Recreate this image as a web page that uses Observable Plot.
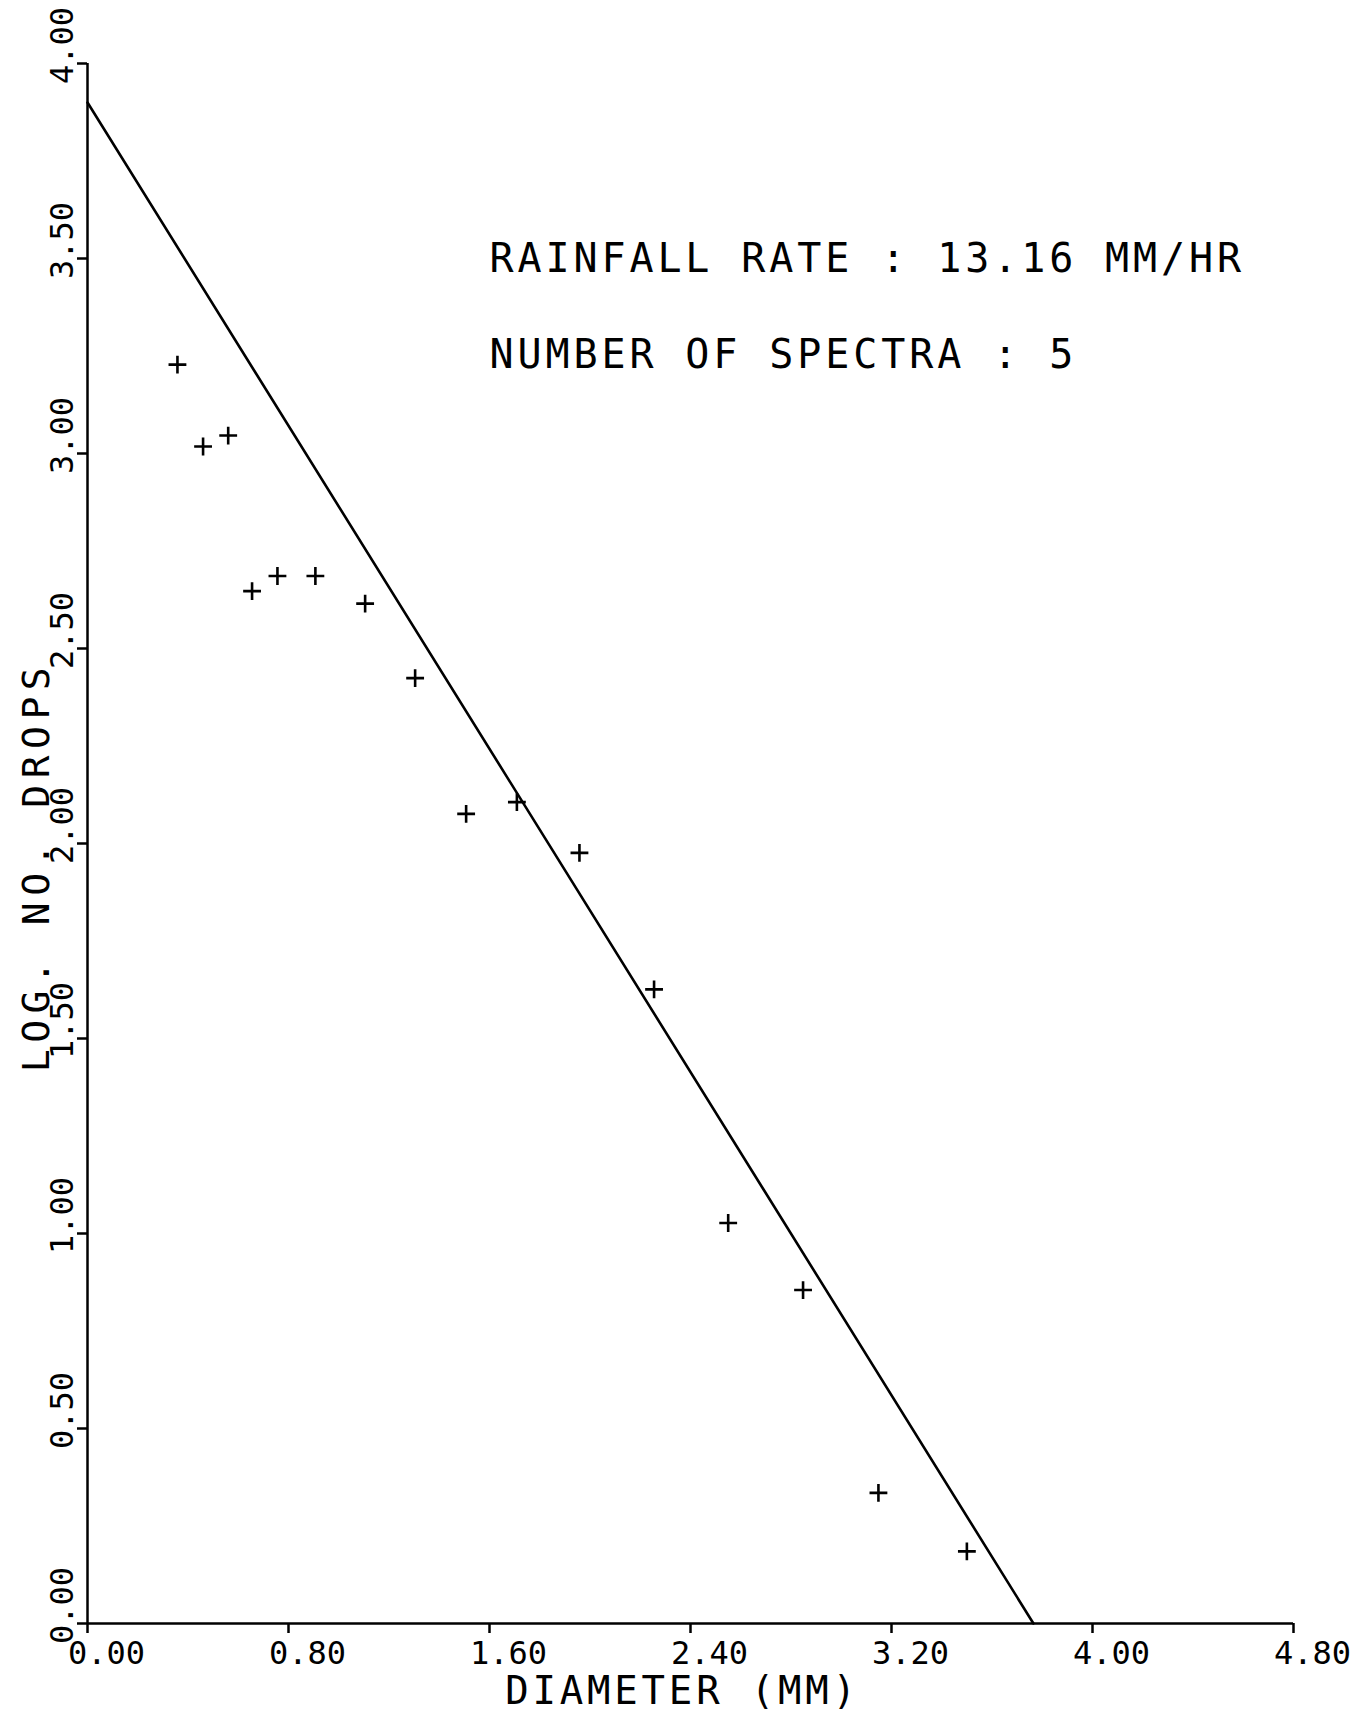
<!DOCTYPE html>
<html>
<head>
<meta charset="utf-8">
<script src="https://cdn.jsdelivr.net/npm/d3@7"></script>
<script src="https://cdn.jsdelivr.net/npm/@observablehq/plot@0.6"></script>
<style>
  html, body { margin: 0; padding: 0; background: #fff; }
  #chart svg { display: block; }
</style>
</head>
<body>
<div id="chart"></div>
<script>
// Measured drop-size points (diameter in mm, log10 number of drops)
const diameter = [0.358, 0.460, 0.560, 0.655, 0.756, 0.907, 1.105, 1.304, 1.507, 1.709, 1.958, 2.255, 2.550, 2.848, 3.148, 3.500];
const logDrops = [3.228, 3.018, 3.046, 2.647, 2.686, 2.686, 2.615, 2.424, 2.076, 2.106, 1.976, 1.626, 1.027, 0.855, 0.335, 0.185];

// Fitted line end points
const fitX = [0, 3.765];
const fitY = [3.90, 0];

// Axis ticks and labels
const xTicks = [0, 0.8, 1.6, 2.4, 3.2, 4.0, 4.8];
const xTickLabels = ["0.00", "0.80", "1.60", "2.40", "3.20", "4.00", "4.80"];
const yTicks = [0, 0.5, 1.0, 1.5, 2.0, 2.5, 3.0, 3.5, 4.0];
const yTickLabels = ["0.00", "0.50", "1.00", "1.50", "2.00", "2.50", "3.00", "3.50", "4.00"];

const xTitle = "DIAMETER (MM)";
const yTitle = "LOG. NO. DROPS";
const annotations = ["RAINFALL RATE : 13.16 MM/HR", "NUMBER OF SPECTRA : 5"];

const points = diameter.map((d, i) => ({x: d, y: logDrops[i]}));
const fit = fitX.map((d, i) => ({x: d, y: fitY[i]}));
const xTickData = xTicks.map((t, i) => ({t, label: xTickLabels[i]}));
const yTickData = yTicks.map((t, i) => ({t, label: yTickLabels[i]}));

const FONT = "DejaVu Sans Mono";

const chart = Plot.plot({
  width: 1369,
  height: 1714,
  marginLeft: 87,
  marginRight: 76,
  marginTop: 63,
  marginBottom: 91,
  style: {fontFamily: FONT, background: "#fff", color: "#000"},
  x: {type: "linear", domain: [0, 4.8], axis: null},
  y: {type: "linear", domain: [0, 4], axis: null},
  marks: [
    // axis lines
    Plot.ruleX([0], {stroke: "#000", strokeWidth: 2.5}),
    Plot.ruleY([0], {stroke: "#000", strokeWidth: 2.5}),
    // x ticks (downward) and labels
    Plot.axisX({ticks: xTicks, tickSize: 10, tickPadding: 7, tickFormat: () => "", strokeWidth: 2.5, label: null}),
    Plot.text(xTickData, {x: "t", frameAnchor: "bottom", text: "label", textAnchor: "middle", dx: 19, dy: 18,
      lineAnchor: "top", fontSize: 32, fill: "#000"}),
    // y ticks (leftward) and rotated labels
    Plot.axisY({ticks: yTicks, tickSize: 10, tickPadding: 0, tickFormat: () => "", strokeWidth: 2.5, label: null}),
    Plot.text(yTickData, {y: "t", frameAnchor: "left", text: "label", textAnchor: "middle", rotate: -90, dx: -25, dy: -18,
      lineAnchor: "middle", fontSize: 32, fill: "#000"}),
    // fitted line
    Plot.line(fit, {x: "x", y: "y", stroke: "#000", strokeWidth: 2.6}),
    // data points
    Plot.dot(points, {x: "x", y: "y", symbol: "plus", r: 5.8, stroke: "#000", strokeWidth: 2.6}),
    // annotations
    Plot.text([annotations[0]], {frameAnchor: "top-left", text: d => d, textAnchor: "start",
      lineAnchor: "bottom", dx: 402, dy: 208, fontSize: 40, fill: "#000"}),
    Plot.text([annotations[1]], {frameAnchor: "top-left", text: d => d, textAnchor: "start",
      lineAnchor: "bottom", dx: 402, dy: 304, fontSize: 40, fill: "#000"}),
    // axis titles
    Plot.text([xTitle], {frameAnchor: "bottom", text: d => d, textAnchor: "middle", dx: -8, dy: 68,
      lineAnchor: "middle", fontSize: 39, fill: "#000"}),
    Plot.text([yTitle], {frameAnchor: "left", text: d => d, textAnchor: "middle", rotate: -90, dx: -51, dy: 23,
      lineAnchor: "middle", fontSize: 38, fill: "#000"})
  ]
});

const spacing = new Map([
  [annotations[0], "3.9px"],
  [annotations[1], "3.9px"],
  [xTitle, "3.8px"],
  [yTitle, "6.5px"]
]);
chart.querySelectorAll("text").forEach(t => {
  const s = spacing.get(t.textContent);
  if (s) t.style.letterSpacing = s;
});

document.getElementById("chart").append(chart);
</script>
</body>
</html>
